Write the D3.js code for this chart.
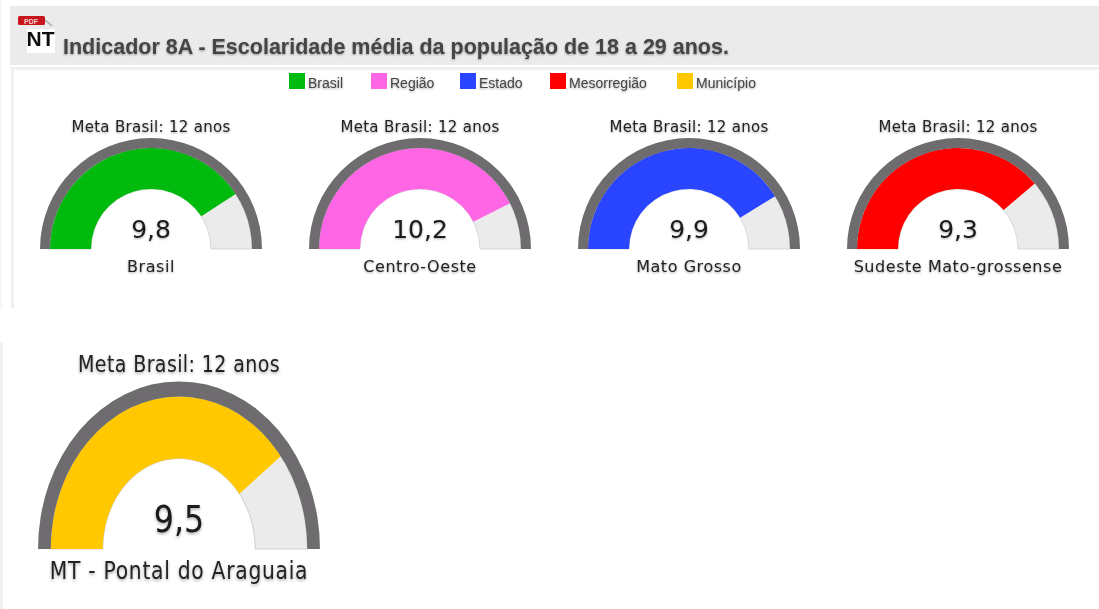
<!DOCTYPE html>
<html><head><meta charset="utf-8">
<script src="https://cdn.jsdelivr.net/npm/d3@7/dist/d3.min.js"></script>
<style>
html,body{margin:0;padding:0;background:#fff;overflow:hidden}
svg{display:block}
.soft{filter:drop-shadow(0.5px 1.5px 1.2px rgba(0,0,0,.35))}
</style></head><body>
<svg id="c" width="1099" height="609"></svg>
<script>
const titleText = "Indicador 8A - Escolaridade média da população de 18 a 29 anos.";
const legendLabels = ["Brasil","Região","Estado","Mesorregião","Município"];
const gaugeColors = ["#00bb0e","#ff66e6","#2a44ff","#ff0000","#ffc800"];
const gaugeNames = ["Brasil","Centro-Oeste","Mato Grosso","Sudeste Mato-grossense","MT - Pontal do Araguaia"];
const gaugeValues = [9.8,10.2,9.9,9.3,9.5];
const gaugeValueLabels = ["9,8","10,2","9,9","9,3","9,5"];
const goalLabel = "Meta Brasil: 12 anos";
const goalValue = 12;

const svg = d3.select("#c");
const defs = svg.append("defs");
defs.append("filter").attr("id","b").attr("x","-5%").attr("y","-5%").attr("width","110%").attr("height","110%")
  .append("feGaussianBlur").attr("stdDeviation",0.45);

const root = svg.append("g").attr("filter","url(#b)");

// page frame
root.append("rect").attr("x",0).attr("y",0).attr("width",2).attr("height",310).attr("fill","#f6f6f6");
root.append("rect").attr("x",10).attr("y",6).attr("width",1089).attr("height",59).attr("fill","#ebebeb");
root.append("rect").attr("x",10).attr("y",67).attr("width",1089).attr("height",3).attr("fill","#f0f0f0");
root.append("rect").attr("x",11).attr("y",70).attr("width",3).attr("height",238).attr("fill","#f0f0f0");
root.append("rect").attr("x",0).attr("y",342).attr("width",3).attr("height",267).attr("fill","#f0f0f0");

// pdf icon
const icon = root.append("g");
icon.append("rect").attr("x",27).attr("y",29).attr("width",28).attr("height",24).attr("fill","#fff");
icon.append("path").attr("d","M45 20 L52 26").attr("stroke","#aaa").attr("stroke-width",1.5).attr("fill","none");
icon.append("rect").attr("x",18).attr("y",16).attr("width",27).attr("height",9).attr("rx",1.5).attr("fill","#c8161d");
icon.append("text").attr("x",31).attr("y",23.5).attr("text-anchor","middle")
  .attr("font-family","Liberation Sans").attr("font-weight","bold").attr("font-size",7).attr("fill","#f3d0d0").text("PDF");
icon.append("text").attr("x",40.5).attr("y",46).attr("text-anchor","middle")
  .attr("font-family","Liberation Sans").attr("font-weight","bold").attr("font-size",21).attr("fill","#111").text("NT");

// title
root.append("text").attr("class","soft").attr("x",63).attr("y",54)
  .attr("font-family","Liberation Sans").attr("font-weight","bold").attr("font-size",21.5).attr("fill","#444")
  .text(titleText);

// legend
const legendX = d3.scaleOrdinal().domain(legendLabels).range([289,371,460,550,677]);
const leg = root.append("g").selectAll("g").data(legendLabels).join("g")
  .attr("transform",d=>`translate(${legendX(d)},73)`);
leg.append("rect").attr("width",16).attr("height",16).attr("fill",(d,i)=>gaugeColors[i]);
leg.append("text").attr("class","soft").attr("x",19).attr("y",15)
  .attr("font-family","Liberation Sans").attr("font-size",14).attr("fill","#444").text(d=>d);

// gauges
const angle = d3.scaleLinear().domain([0,goalValue]).range([-Math.PI/2,Math.PI/2]);
const layouts = [
 {cx:151,base:249,sx:1,sy:1,lab:23},
 {cx:420,base:249,sx:1,sy:1,lab:23},
 {cx:689,base:249,sx:1,sy:1,lab:23},
 {cx:958,base:249,sx:1,sy:1,lab:23},
 {cx:179,base:549,sx:1.27,sy:1.51,lab:20}
];
const ring = d3.arc().innerRadius(101).outerRadius(111);
const band = d3.arc().innerRadius(60).outerRadius(101);
const fam = "DejaVu Sans";

gaugeValues.forEach((v,i)=>{
  const L = layouts[i];
  const g = root.append("g").attr("transform",`translate(${L.cx},${L.base}) scale(${L.sx},${L.sy})`);
  g.append("path").attr("d",band({startAngle:angle(0),endAngle:angle(goalValue)}))
    .attr("fill","#ebebeb").attr("stroke","#cfcfcf").attr("stroke-width",0.8);
  g.append("path").attr("d",band({startAngle:angle(0),endAngle:angle(v)})).attr("fill",gaugeColors[i]);
  g.append("path").attr("d",ring({startAngle:angle(0),endAngle:angle(goalValue)})).attr("fill","#6e6c6e");
  const t = g.append("g").attr("class","soft").attr("text-anchor","middle").attr("font-family",fam).attr("fill","#222");
  t.append("text").attr("y",-117).attr("font-size",15).attr("letter-spacing",0.3).text(goalLabel);
  t.append("text").attr("y",-11.5).attr("font-size",25).attr("fill","#1a1a1a").text(gaugeValueLabels[i]);
  t.append("text").attr("y",L.lab).attr("font-size",16).attr("letter-spacing",0.55).text(gaugeNames[i]);
});
</script>
</body></html>
